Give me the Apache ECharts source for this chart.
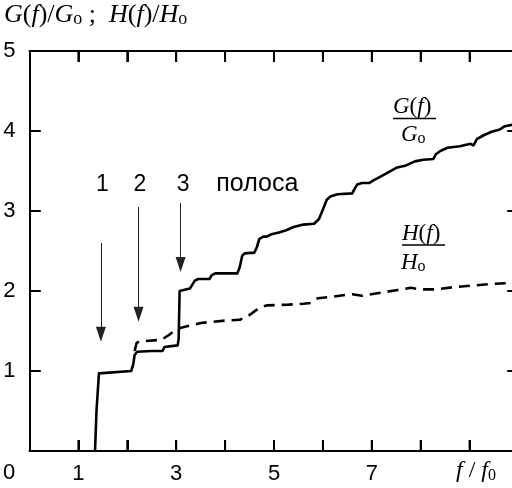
<!DOCTYPE html>
<html>
<head>
<meta charset="utf-8">
<script src="https://cdn.jsdelivr.net/npm/echarts@6/dist/echarts.min.js"></script>
<style>
  html, body { margin: 0; padding: 0; background: #fff; }
  #chart { width: 512px; height: 488px; }
</style>
</head>
<body>
<div id="chart"></div>
<script>
// ---- data ----
const gX = [1.34, 1.37, 1.42, 1.44, 2.08, 2.12, 2.15, 2.20, 2.50, 2.72, 2.76, 2.80, 3.03, 3.05, 3.07, 3.10, 3.28, 3.33, 3.38, 3.45, 3.68, 3.73, 3.80, 4.25, 4.30, 4.35, 4.40, 4.60, 4.65, 4.70, 4.78, 4.85, 4.95, 5.10, 5.25, 5.40, 5.60, 5.82, 5.92, 6.00, 6.08, 6.15, 6.30, 6.60, 6.65, 6.70, 6.80, 6.95, 7.05, 7.15, 7.30, 7.50, 7.70, 7.88, 8.05, 8.26, 8.31, 8.40, 8.55, 8.80, 9.02, 9.08, 9.15, 9.30, 9.45, 9.62, 9.72, 9.90];
const gY = [0.00, 0.50, 0.97, 0.99, 1.00, 1.08, 1.20, 1.24, 1.25, 1.25, 1.30, 1.32, 1.32, 1.40, 2.00, 2.02, 2.03, 2.08, 2.13, 2.15, 2.15, 2.20, 2.22, 2.22, 2.30, 2.44, 2.47, 2.48, 2.55, 2.65, 2.68, 2.68, 2.71, 2.73, 2.76, 2.80, 2.83, 2.84, 2.90, 3.02, 3.14, 3.18, 3.21, 3.22, 3.28, 3.33, 3.35, 3.35, 3.39, 3.42, 3.47, 3.54, 3.57, 3.62, 3.64, 3.65, 3.71, 3.75, 3.79, 3.81, 3.84, 3.82, 3.90, 3.95, 3.99, 4.02, 4.06, 4.08];

const hX = [2.15, 2.19, 2.25, 2.70, 2.85, 3.00, 3.10, 3.50, 4.00, 4.30, 4.50, 4.70, 4.85, 5.30, 5.60, 5.75, 5.90, 6.20, 6.60, 6.80, 7.20, 7.50, 7.80, 7.98, 8.30, 8.70, 9.10, 9.50, 9.90];
const hY = [1.25, 1.35, 1.37, 1.39, 1.45, 1.52, 1.54, 1.60, 1.63, 1.64, 1.70, 1.79, 1.82, 1.83, 1.84, 1.85, 1.91, 1.93, 1.96, 1.94, 1.98, 2.01, 2.04, 2.02, 2.02, 2.05, 2.07, 2.09, 2.10];

// band arrows: x position, start (top) and head centre
const arrowX = [1.46, 2.23, 3.09];
const arrowTop = [2.60, 3.05, 3.10];
const arrowEnd = [1.46, 1.71, 2.33];
const arrowLabels = ['1', '2', '3'];
const arrowLabelX = [1.49, 2.26, 3.14];
const bandWord = 'полоса';
const bandWordX = 3.82;
const labelRowY = 3.33;

// axis ticks and tick labels
const xTickValues = [1, 2, 3, 4, 5, 6, 7, 8, 9];
const yTickValues = [1, 2, 3, 4];
const xTickLabels = ['1', '3', '5', '7'];
const yTickLabels = ['1', '2', '3', '4', '5'];

// ---- chart ----
const SANS = "'Liberation Sans', Arial, sans-serif";
const SERIF = "'Liberation Serif', 'Times New Roman', serif";
const X_MIN = 0, X_MAX = 10, Y_MIN = 0, Y_MAX = 5;

const gData = gX.map((x, i) => [x, gY[i]]);
const hData = hX.map((x, i) => [x, hY[i]]);
const arrows = arrowX.map((x, i) => [{ coord: [x, arrowTop[i]] }, { coord: [x, arrowEnd[i]] }]);

const textPoints = arrowLabels.map((t, i) => ({
  coord: [arrowLabelX[i], labelRowY],
  label: { formatter: t, fontSize: 23, align: 'center' }
}));
textPoints.push({
  coord: [bandWordX, labelRowY],
  label: { formatter: bandWord, fontSize: 25, align: 'left' }
});

const mkLine = () => ({ show: true, onZero: false, lineStyle: { color: '#000', width: 2 } });
const mkTick = () => ({ show: true, inside: true, length: 11, lineStyle: { color: '#000', width: 2 } });

// inward tick marks drawn as series on the axes' own scales
function tickSeries(data, size, offset) {
  return {
    type: 'scatter', data, symbol: 'rect', symbolSize: size, symbolOffset: offset,
    itemStyle: { color: '#000', opacity: 1 }, clip: false, silent: true, z: 5,
    emphasis: { disabled: true }
  };
}

function serifRich(fs) {
  return {
    i: { fontFamily: SERIF, fontStyle: 'italic', fontSize: fs, color: '#000' },
    n: { fontFamily: SERIF, fontSize: fs, color: '#000' },
    s: { fontFamily: SERIF, fontSize: Math.round(fs * 0.68), color: '#000', padding: [Math.round(fs * 0.36), 0, 0, 0] }
  };
}

const graphics = [
  { type: 'text', left: 4, top: 2,
    style: { text: '{i|G}{n|(}{i|f}{n|)/}{i|G}{s|o}{n| ;  }{i|H}{n|(}{i|f}{n|)/}{i|H}{s|o}', rich: serifRich(26) } },
  { type: 'text', x: 9, y: 473,
    style: { text: '0', font: '22px ' + SANS, fill: '#000', align: 'center', verticalAlign: 'middle' } },
  { type: 'text', left: 456, top: 459, style: { text: '{i|f}{n| / }{i|f}{s|0}', rich: serifRich(24) } },
  { type: 'text', left: 393, top: 95, style: { text: '{i|G}{n|(}{i|f}{n|)}', rich: serifRich(23) } },
  { type: 'line', shape: { x1: 393, y1: 118.5, x2: 436, y2: 118.5 }, style: { stroke: '#000', lineWidth: 1.5 } },
  { type: 'text', left: 401, top: 123, style: { text: '{i|G}{s|o}', rich: serifRich(23) } },
  { type: 'text', left: 402, top: 222, style: { text: '{i|H}{n|(}{i|f}{n|)}', rich: serifRich(23) } },
  { type: 'line', shape: { x1: 402, y1: 245, x2: 445, y2: 245 }, style: { stroke: '#000', lineWidth: 1.5 } },
  { type: 'text', left: 401, top: 251, style: { text: '{i|H}{s|o}', rich: serifRich(23) } }
];

const chart = echarts.init(document.getElementById('chart'), null, { renderer: 'canvas' });
chart.setOption({
  animation: false,
  backgroundColor: '#fff',
  grid: { left: 29.5, top: 51, width: 489, height: 400, containLabel: false, outerBoundsMode: 'none' },
  xAxis: [
    {
      type: 'value', min: X_MIN, max: X_MAX, interval: 1, position: 'bottom',
      axisLine: mkLine(), axisTick: mkTick(), splitLine: { show: false },
      axisLabel: {
        show: true, margin: 12, fontFamily: SANS, fontSize: 22, color: '#000',
        formatter: v => (xTickLabels.indexOf(String(v)) >= 0 ? String(v) : '')
      }
    },
    {
      type: 'value', min: X_MIN, max: X_MAX, interval: 1, position: 'top',
      axisLine: mkLine(), axisTick: mkTick(), splitLine: { show: false }, axisLabel: { show: false }
    }
  ],
  yAxis: [
    {
      type: 'value', min: Y_MIN, max: Y_MAX, interval: 1, position: 'left',
      axisLine: mkLine(), axisTick: mkTick(), splitLine: { show: false },
      axisLabel: {
        show: true, margin: 14, fontFamily: SANS, fontSize: 22, color: '#000',
        formatter: v => (yTickLabels.indexOf(String(v)) >= 0 ? String(v) : '')
      }
    },
    {
      type: 'value', min: Y_MIN, max: Y_MAX, interval: 1, position: 'right',
      axisLine: mkLine(), axisTick: mkTick(), splitLine: { show: false }, axisLabel: { show: false }
    }
  ],
  series: [
    {
      name: 'G', type: 'line', data: gData, showSymbol: false, symbol: 'none',
      lineStyle: { color: '#000', width: 2.6, join: 'round', cap: 'round' },
      markLine: {
        silent: true, animation: false,
        symbol: ['none', 'triangle'], symbolSize: [10, 15],
        lineStyle: { color: '#222', width: 1, type: 'solid' },
        itemStyle: { color: '#000' },
        label: { show: false },
        emphasis: { disabled: true },
        data: arrows
      }
    },
    {
      name: 'H', type: 'line', data: hData, showSymbol: false, symbol: 'none',
      lineStyle: { color: '#000', width: 2.6, type: [11, 7] },
      markPoint: {
        silent: true, animation: false,
        symbol: 'circle', symbolSize: 1,
        itemStyle: { color: 'rgba(0,0,0,0)' },
        label: { show: true, position: 'inside', color: '#000', fontFamily: SANS, verticalAlign: 'middle' },
        emphasis: { disabled: true },
        data: textPoints
      }
    },
    tickSeries(xTickValues.map(v => [v, Y_MIN]), [2, 11], [0, -5.5]),
    tickSeries(xTickValues.map(v => [v, Y_MAX]), [2, 11], [0, 5.5]),
    tickSeries(yTickValues.map(v => [X_MIN, v]), [11, 2], [5.5, 0]),
    tickSeries(yTickValues.map(v => [X_MAX, v]), [11, 2], [-5.5, 0])
  ],
  graphic: graphics
});
</script>
</body>
</html>
